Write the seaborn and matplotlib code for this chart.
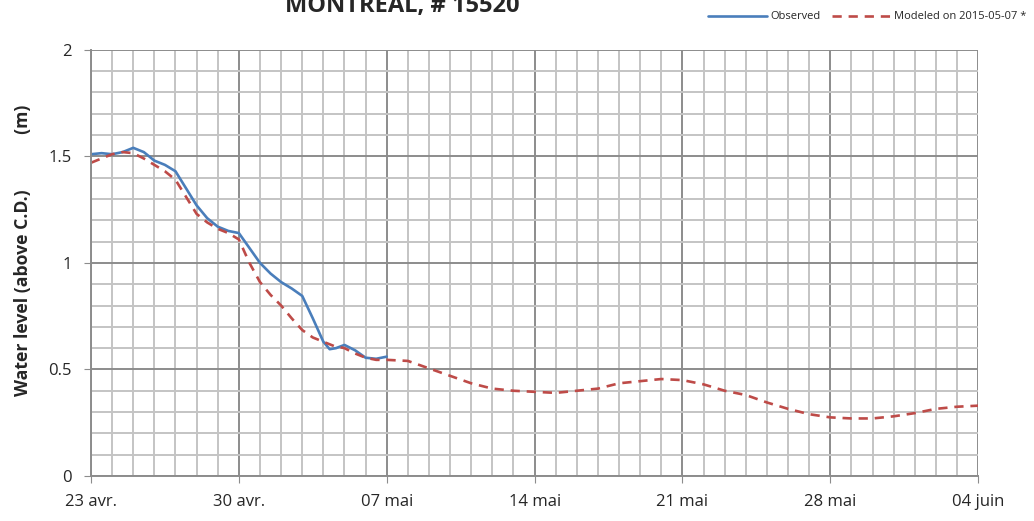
import pandas as pd
import numpy as np
import seaborn as sns
import matplotlib.pyplot as plt
import matplotlib.dates as mdates
from matplotlib.ticker import MultipleLocator

start = pd.Timestamp('2015-04-23')

# observed water level, days since 23 avr.
obs_days = [0, 0.5, 1, 1.5, 2, 2.5, 3, 3.5, 4, 4.5, 5, 5.5, 6, 6.5, 7, 7.5, 8, 8.5,
            9, 9.5, 10, 10.5, 11, 11.3, 11.6, 12, 12.5, 13, 13.5, 14]
obs_level = [1.51, 1.515, 1.51, 1.52, 1.54, 1.52, 1.48, 1.46, 1.43, 1.35, 1.27, 1.21,
             1.17, 1.15, 1.14, 1.07, 1.00, 0.95, 0.91, 0.88, 0.845, 0.74, 0.63, 0.595,
             0.60, 0.615, 0.59, 0.555, 0.55, 0.56]

# modeled water level
mod_days = [0, 0.5, 1, 1.5, 2, 2.5, 3, 3.5, 4, 4.5, 5, 5.5, 6, 6.5, 7, 7.5, 8, 8.5,
            9, 9.5, 10, 10.5, 11, 11.5, 12, 12.5, 13, 13.5, 14, 15, 16, 17, 18, 19,
            20, 21, 22, 23, 24, 25, 26, 27, 28, 29, 30, 31, 32, 33, 34, 35, 36, 37,
            38, 39, 40, 41, 42]
mod_level = [1.47, 1.49, 1.51, 1.52, 1.515, 1.49, 1.46, 1.43, 1.39, 1.31, 1.23, 1.19,
             1.16, 1.14, 1.11, 1.00, 0.91, 0.85, 0.80, 0.74, 0.685, 0.65, 0.63, 0.61,
             0.60, 0.575, 0.555, 0.545, 0.545, 0.54, 0.505, 0.47, 0.435, 0.41, 0.40,
             0.395, 0.39, 0.40, 0.41, 0.435, 0.445, 0.455, 0.45, 0.43, 0.40, 0.38,
             0.345, 0.315, 0.29, 0.275, 0.27, 0.27, 0.28, 0.295, 0.315, 0.325, 0.33]

tick_days = [0, 7, 14, 21, 28, 35, 42]
tick_labels = ['23 avr.', '30 avr.', '07 mai', '14 mai', '21 mai', '28 mai', '04 juin']

obs_df = pd.DataFrame({'date': start + pd.to_timedelta(obs_days, unit='D'), 'level': obs_level})
mod_df = pd.DataFrame({'date': start + pd.to_timedelta(mod_days, unit='D'), 'level': mod_level})

sns.set_style('white')
plt.rcParams['font.family'] = ['Open Sans', 'DejaVu Sans']

fig = plt.figure(figsize=(10.34, 5.21), dpi=100)
ax = fig.add_axes([0.088, 0.0864, 0.858, 0.818])

sns.lineplot(data=obs_df, x='date', y='level', ax=ax, color='#4a7ebb', linewidth=1.9,
             label='Observed')
sns.lineplot(data=mod_df, x='date', y='level', ax=ax, color='#be4b48', linewidth=1.9,
             dashes=False, label='Modeled on 2015-05-07 *')
ax.lines[1].set_dashes((3.5, 2.6))

ax.set_xlim(start, start + pd.Timedelta(days=42))
ax.set_ylim(0, 2)

# grid: daily / 0.1 m minor, weekly / 0.5 m major
ax.xaxis.set_minor_locator(mdates.DayLocator())
ax.yaxis.set_minor_locator(MultipleLocator(0.1))
ax.yaxis.set_major_locator(MultipleLocator(0.5))
ax.set_xticks([start + pd.Timedelta(days=d) for d in tick_days])
ax.set_xticklabels(tick_labels)
ax.set_yticks([0, 0.5, 1, 1.5, 2])
ax.set_yticklabels(['0', '0.5', '1', '1.5', '2'])
ax.grid(which='minor', color='#c4c4c4', linewidth=1.4)
ax.grid(which='major', color='#8c8c8c', linewidth=1.4)
ax.set_axisbelow(True)
ax.tick_params(axis='x', which='major', pad=8)
ax.tick_params(axis='y', which='major', pad=9)
ax.tick_params(axis='both', which='major', labelsize=12, length=5, color='#8c8c8c',
               direction='out', left=True, bottom=True)
ax.tick_params(axis='both', which='minor', length=0)
for s in ['top', 'right']:
    ax.spines[s].set_visible(False)
for s in ['left', 'bottom']:
    ax.spines[s].set_color('#8c8c8c')
    ax.spines[s].set_linewidth(1.4)

ax.set_xlabel('')
ax.set_ylabel('Water level (above C.D.)            (m)', fontsize=12.7, fontweight='bold')
ax.yaxis.set_label_coords(-0.067, 0.53)

fig.text(0.389, 0.977, 'MONTREAL, # 15520', ha='center', va='baseline', fontsize=17,
         fontweight='bold')

ax.legend(loc='upper right', bbox_to_anchor=(1.0, 0.993), bbox_transform=fig.transFigure,
          ncol=2, frameon=False, fontsize=8, handlelength=5.3, columnspacing=1.0,
          handletextpad=0.3, borderaxespad=0.3)

fig.savefig('out.png', dpi=100)
